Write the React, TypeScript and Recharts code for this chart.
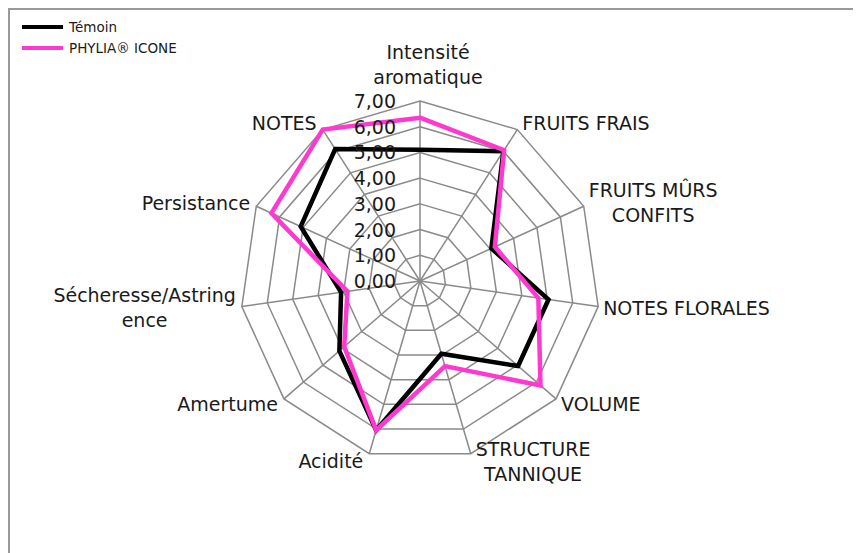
import React from "react";
import {
  Legend,
  PolarAngleAxis,
  PolarGrid,
  PolarRadiusAxis,
  Radar,
  RadarChart,
} from "recharts";

// axis labels, with the line breaks used in the original sheet
const categories = [
  "Intensité\naromatique",
  "FRUITS FRAIS",
  "FRUITS MÛRS\nCONFITS",
  "NOTES FLORALES",
  "VOLUME",
  "STRUCTURE\nTANNIQUE",
  "Acidité",
  "Amertume",
  "Sécheresse/Astring\nence",
  "Persistance",
  "NOTES",
];

const temoin = [5.1, 6.0, 3.05, 5.05, 5.05, 2.95, 6.05, 4.15, 3.1, 5.1, 6.1];
const phylia = [6.35, 6.05, 3.2, 4.65, 6.2, 3.45, 6.05, 3.9, 2.85, 6.35, 7.0];

const radiusTicks = [0, 1, 2, 3, 4, 5, 6, 7];
const seriesNames = ["Témoin", "PHYLIA® ICONE"];

const data = categories.map((label, i) => ({
  label,
  temoin: temoin[i],
  phylia: phylia[i],
}));

const FONT = "DejaVu Sans";
const LABEL_SIZE = 19;
const CX = 410;
const CY = 271;
const R = 180;
const GRID = "#8a8a8a";
const PINK = "#ff38cf";

let measureCtx: CanvasRenderingContext2D | null = null;
function textWidth(text: string) {
  if (!measureCtx) {
    measureCtx = document.createElement("canvas").getContext("2d");
  }
  if (!measureCtx) return text.length * LABEL_SIZE * 0.6;
  measureCtx.font = `${LABEL_SIZE}px "${FONT}"`;
  return measureCtx.measureText(text).width;
}

function AngleTick(props: any) {
  const { payload } = props;
  const a = (payload.coordinate * Math.PI) / 180;
  const c = Math.cos(a);
  const s = Math.sin(a);
  const vx = CX + R * c;
  const vy = CY - R * s;
  const lines = String(payload.value).split("\n");
  const lh = 25;
  const w = Math.max(...lines.map(textWidth));
  const h = lines.length * lh;

  let left: number;
  let yc: number;
  if (Math.abs(c) < 0.2) {
    left = vx + 8 - w / 2;
    yc = s > 0 ? vy - 12 - h / 2 : vy + 12 + h / 2;
  } else if (c > 0) {
    left = vx + 5;
    yc = vy - 8 * s;
  } else {
    left = vx - 6 - w;
    yc = vy - 8 * s;
  }
  const top = yc - h / 2;

  return (
    <g>
      {lines.map((line, i) => (
        <text
          key={i}
          x={left + w / 2}
          y={top + lh * i + lh / 2}
          textAnchor="middle"
          dominantBaseline="central"
          fontFamily={FONT}
          fontSize={LABEL_SIZE}
          fill="#1a1a1a"
        >
          {line}
        </text>
      ))}
    </g>
  );
}

function RadiusTick(props: any) {
  const { x, y, payload } = props;
  return (
    <text
      x={x - 24}
      y={y}
      textAnchor="end"
      dominantBaseline="central"
      fontFamily={FONT}
      fontSize={LABEL_SIZE}
      fill="#1a1a1a"
    >
      {Number(payload.value).toFixed(2).replace(".", ",")}
    </text>
  );
}

function LegendBox() {
  const items = [
    { name: seriesNames[0], color: "#000000" },
    { name: seriesNames[1], color: PINK },
  ];
  return (
    <div style={{ fontFamily: FONT, fontSize: 13.5, color: "#1a1a1a" }}>
      {items.map((item) => (
        <div
          key={item.name}
          style={{ display: "flex", alignItems: "center", height: 21 }}
        >
          <span
            style={{
              display: "inline-block",
              width: 41,
              height: 4,
              background: item.color,
              marginRight: 6,
            }}
          />
          {item.name}
        </div>
      ))}
    </div>
  );
}

export default function App() {
  return (
    <div style={{ width: 853, height: 545, overflow: "hidden" }}>
      <div
        style={{
          width: 900,
          height: 600,
          borderTop: "2px solid #999999",
          borderLeft: "2px solid #999999",
          position: "relative",
          background: "#fff",
          boxSizing: "border-box",
        }}
      >
        <RadarChart
          width={850}
          height={560}
          cx={CX}
          cy={CY}
          outerRadius={R}
          data={data}
          margin={{ top: 0, right: 0, bottom: 0, left: 0 }}
        >
          <PolarGrid gridType="polygon" stroke={GRID} strokeWidth={1.5} />
          <PolarAngleAxis
            dataKey="label"
            tick={AngleTick}
            tickLine={false}
            axisLine={false}
          />
          <PolarRadiusAxis
            angle={90}
            domain={[0, 7]}
            ticks={radiusTicks}
            tickCount={8}
            tick={RadiusTick}
            tickLine={false}
            axisLine={false}
          />
          <Radar
            name={seriesNames[0]}
            dataKey="temoin"
            stroke="#000000"
            strokeWidth={4.5}
            fill="none"
            fillOpacity={0}
            dot={false}
            isAnimationActive={false}
          />
          <Radar
            name={seriesNames[1]}
            dataKey="phylia"
            stroke={PINK}
            strokeWidth={4.5}
            fill="none"
            fillOpacity={0}
            dot={false}
            isAnimationActive={false}
          />
          <Legend
            content={LegendBox}
            wrapperStyle={{ position: "absolute", top: 6, left: 12, width: 200 }}
          />
        </RadarChart>
      </div>
    </div>
  );
}
